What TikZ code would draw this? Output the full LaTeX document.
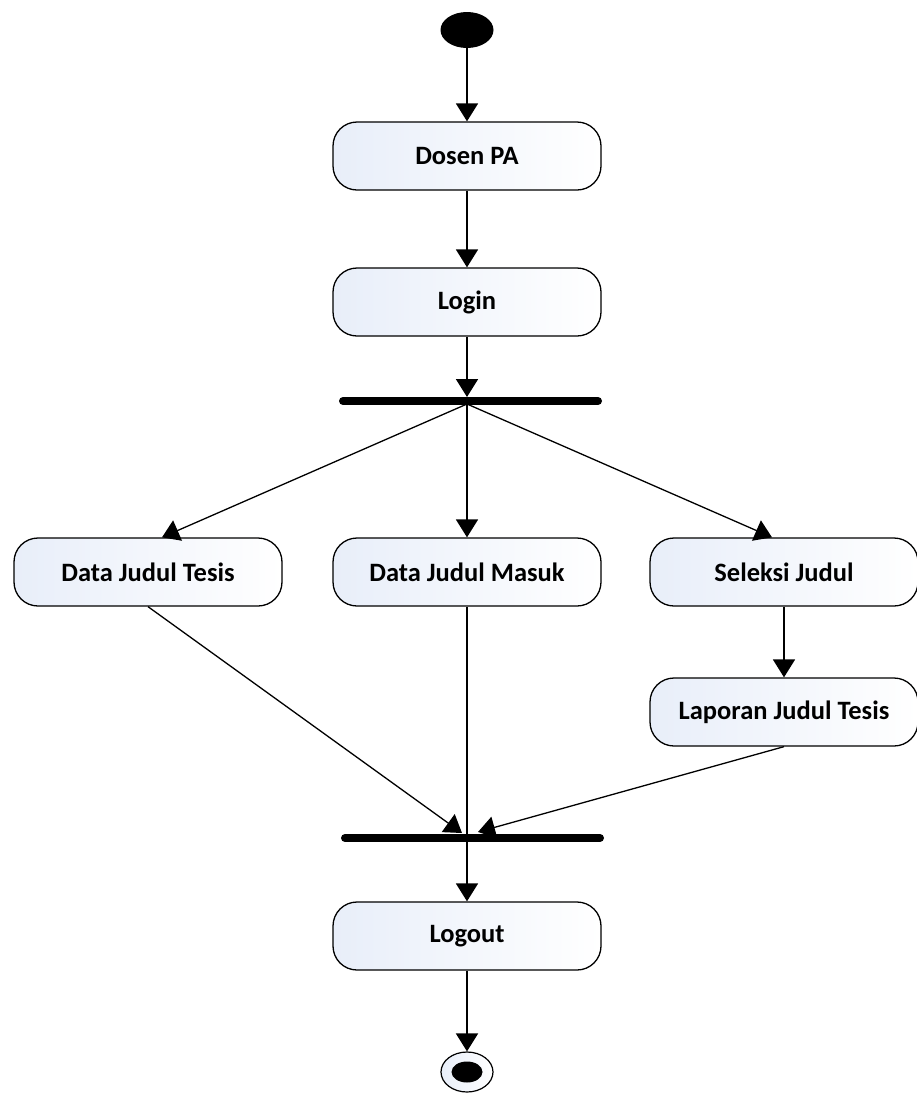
\documentclass[tikz,border=0pt]{standalone}
\usepackage{fontspec}
\setmainfont{Carlito}
\usetikzlibrary{arrows.meta,calc,shapes.geometric}
\definecolor{actfill}{RGB}{232,238,249}
\begin{document}
\begin{tikzpicture}[x=1pt,y=-1pt,
  act/.style={draw, line width=1.3pt, rounded corners=24pt, minimum width=268pt, minimum height=68pt,
    left color=actfill, right color=white, inner sep=0pt,
    font=\bfseries\fontsize{26.5}{30}\selectfont},
  arr/.style={-{Triangle[width=22pt,length=18pt]}, line width=1.8pt},
  darr/.style={-{Triangle[width=22pt,length=17pt]}, line width=1.3pt},
  dline/.style={line width=1.3pt},
  bar/.style={line width=8pt, line cap=round}]
\useasboundingbox (0,0) rectangle (917,1093);
% nodes
\node[ellipse, fill=black, minimum width=53pt, minimum height=36pt, inner sep=0pt] (start) at (467,30) {};
\node[act] (dosen) at (467,156) {Dosen PA};
\node[act] (login) at (467,302) {Login};
\coordinate (f1l) at (343,401);
\coordinate (f1r) at (598,401);
\coordinate (f1top) at (467,397);
\coordinate (f1bot) at (467,404);
\node[act] (dt) at (148,572) {Data Judul Tesis};
\node[act] (dm) at (467,572) {Data Judul Masuk};
\node[act] (sj) at (784,572) {Seleksi Judul};
\node[act] (lj) at (784,712) {Laporan Judul Tesis};
\coordinate (f2l) at (345,838);
\coordinate (f2r) at (600,838);
\coordinate (f2top) at (467,834);
\coordinate (f2bot) at (467,842);
\coordinate (f2lin) at (462,833);
\coordinate (f2rin) at (478,832);
\node[act] (logout) at (467,936) {Logout};
\node[ellipse, draw, line width=1.2pt, minimum width=52pt, minimum height=40pt, inner sep=0pt,
  left color=actfill, right color=white] (end) at (467,1072) {};
\node[ellipse, fill=black, minimum width=31pt, minimum height=21pt, inner sep=0pt] (endin) at (end.center) {};
% bars
\draw[bar] (f1l) -- (f1r);
\draw[bar] (f2l) -- (f2r);
% connectors
\draw[arr] (start.south) -- (dosen.north);
\draw[arr] (dosen.south) -- (login.north);
\draw[arr] (login.south) -- (f1top);
\draw[darr] (f1bot) -- ([xshift=14pt]dt.north);
\draw[arr] (f1bot) -- (dm.north);
\draw[darr] (f1bot) -- ([xshift=-12pt]sj.north);
\draw[arr] (sj.south) -- (lj.north);
\draw[darr] (dt.south) -- (f2lin);
\draw[dline] (dm.south) -- (f2top);
\draw[darr] (lj.south) -- (f2rin);
\draw[arr] (f2bot) -- (logout.north);
\draw[arr] (logout.south) -- (end.north);
\end{tikzpicture}
\end{document}
